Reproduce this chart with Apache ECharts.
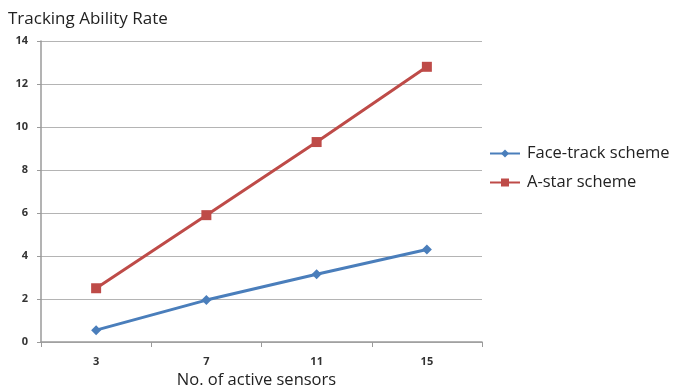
<!DOCTYPE html>
<html>
<head>
<meta charset="utf-8">
<script src="https://cdn.jsdelivr.net/npm/echarts@6/dist/echarts.min.js"></script>
<style>
  html, body { margin: 0; padding: 0; background: #fff; }
  #chart { width: 681px; height: 387px; }
</style>
</head>
<body>
<div id="chart"></div>
<script>
// Number of active sensors (x categories)
const sensors = ['3', '7', '11', '15'];
// Tracking ability rate per scheme
const faceTrack = [0.55, 1.95, 3.15, 4.3];
const aStar = [2.5, 5.9, 9.3, 12.8];
const seriesNames = ['Face-track scheme', 'A-star scheme'];

const font = '"Open Sans", "Liberation Sans", sans-serif';
const chart = echarts.init(document.getElementById('chart'), null, { renderer: 'canvas' });

chart.setOption({
  animation: false,
  backgroundColor: '#ffffff',
  title: {
    text: 'Tracking Ability Rate',
    left: 3, top: 6,
    textStyle: { fontFamily: font, fontSize: 17, fontWeight: 'normal', color: '#222' }
  },
  legend: {
    orient: 'vertical',
    left: 484, top: 140,
    itemGap: 12,
    itemWidth: 30, itemHeight: 10,
    textStyle: { fontFamily: font, fontSize: 16.5, color: '#222', padding: [0, 0, 0, 2] },
    data: seriesNames
  },
  grid: {
    left: 41, top: 41, width: 441, height: 301,
    containLabel: false,
    outerBoundsMode: 'none'
  },
  xAxis: {
    type: 'category',
    data: sensors,
    boundaryGap: true,
    name: 'No. of active sensors',
    nameLocation: 'middle',
    nameGap: 30,
    nameTextStyle: { fontFamily: font, fontSize: 16.5, color: '#222', padding: [0, 10, 0, 0] },
    axisLine: { lineStyle: { color: '#9a9a9a', width: 1.5 } },
    axisTick: { show: true, alignWithLabel: false, length: 5, lineStyle: { color: '#9a9a9a' } },
    axisLabel: { fontFamily: font, fontSize: 11, fontWeight: 'bold', color: '#333', margin: 14 }
  },
  yAxis: {
    type: 'value',
    min: 0, max: 14, interval: 2,
    axisLine: { show: true, lineStyle: { color: '#9a9a9a', width: 1.5 } },
    axisTick: { show: true, length: 4, lineStyle: { color: '#9a9a9a' } },
    axisLabel: { fontFamily: font, fontSize: 11, fontWeight: 'bold', color: '#333', margin: 13 },
    splitLine: { lineStyle: { color: '#b4b4b4', width: 1 } }
  },
  series: [
    {
      name: seriesNames[0],
      type: 'line',
      data: faceTrack,
      symbol: 'diamond',
      symbolSize: 10,
      lineStyle: { color: '#4a7ebb', width: 3 },
      itemStyle: { color: '#4a7ebb' }
    },
    {
      name: seriesNames[1],
      type: 'line',
      data: aStar,
      symbol: 'rect',
      symbolSize: 10,
      lineStyle: { color: '#be4b48', width: 3 },
      itemStyle: { color: '#be4b48' }
    }
  ]
});
</script>
</body>
</html>
